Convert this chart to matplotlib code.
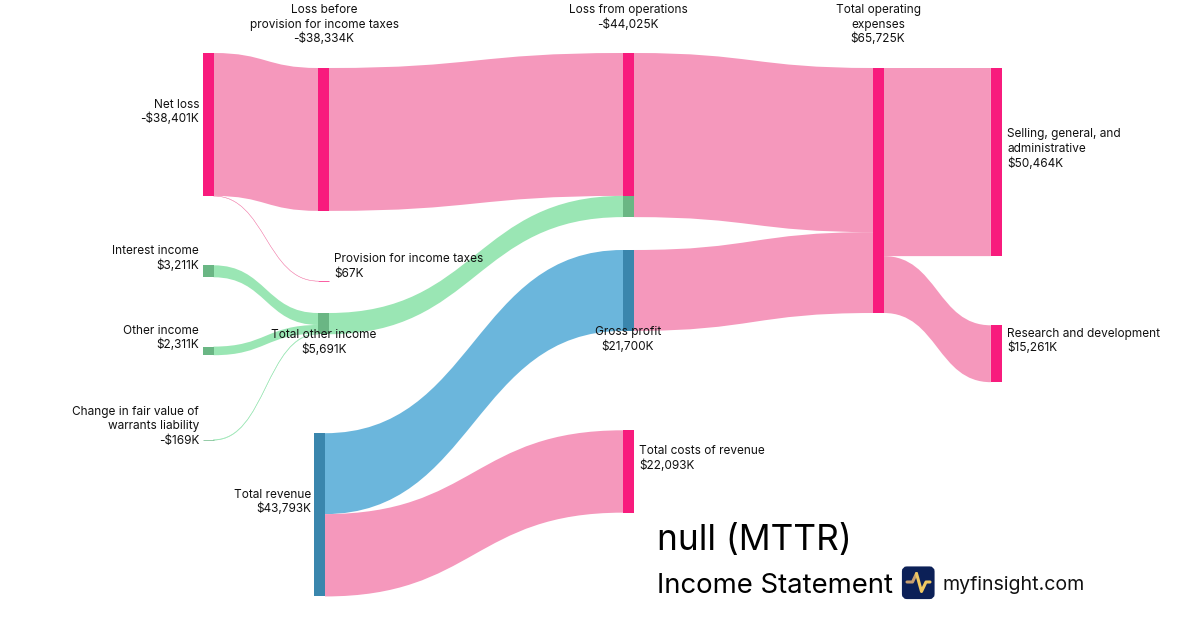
import matplotlib
matplotlib.use("Agg")
import matplotlib.pyplot as plt
from matplotlib.path import Path
from matplotlib.patches import PathPatch, Rectangle, FancyBboxPatch

plt.rcParams['font.family'] = ['Inter', 'DejaVu Sans']

# values in $K, as printed on the chart
net_loss = -38401
loss_before_tax = -38334
provision_tax = 67
interest_income = 3211
other_income = 2311
change_warrants = -169
total_other_income = 5691
loss_from_ops = -44025
total_revenue = 43793
gross_profit = 21700
cost_of_revenue = 22093
total_opex = 65725
sga = 50464
rnd = 15261

PINK_NODE = '#f81b7d'
PINK_LINK = '#f598bc'
GREEN_NODE = '#6ab684'
GREEN_LINK = '#9ae6b4'
BLUE_NODE = '#3a86ad'
BLUE_LINK = '#6bb6dc'

PX_PER_K = 245 / 65725  # same height scale for all the nodes
NODE_W = 10.7

# node: value, left x, top y, colour
nodes = {
    'net': (net_loss, 202.8, 53, PINK_NODE),
    'before': (loss_before_tax, 318.3, 68, PINK_NODE),
    'prov': (provision_tax, 318.3, 281, PINK_NODE),
    'interest': (interest_income, 202.8, 265.3, GREEN_NODE),
    'other': (other_income, 202.8, 346.6, GREEN_NODE),
    'warrants': (change_warrants, 202.8, 439.6, GREEN_NODE),
    'tot_other': (total_other_income, 318.3, 313, GREEN_NODE),
    'ops': (loss_from_ops, 623, 53, PINK_NODE),
    'revenue': (total_revenue, 314.3, 433.2, BLUE_NODE),
    'gross': (gross_profit, 623, 250, BLUE_NODE),
    'costs': (cost_of_revenue, 623, 430.3, PINK_NODE),
    'opex': (total_opex, 873.2, 68, PINK_NODE),
    'sga': (sga, 990.9, 68, PINK_NODE),
    'rnd': (rnd, 990.9, 325.3, PINK_NODE),
}

# source, target, value, colour (order sets the stacking inside a node)
links = [
    ('net', 'before', abs(loss_before_tax), PINK_LINK),
    ('net', 'prov', provision_tax, PINK_LINK),
    ('interest', 'tot_other', interest_income, GREEN_LINK),
    ('other', 'tot_other', other_income, GREEN_LINK),
    ('warrants', 'tot_other', abs(change_warrants), GREEN_LINK),
    ('before', 'ops', abs(loss_before_tax), PINK_LINK),
    ('tot_other', 'ops', total_other_income, GREEN_LINK),
    ('revenue', 'gross', gross_profit, BLUE_LINK),
    ('revenue', 'costs', cost_of_revenue, PINK_LINK),
    ('ops', 'opex', abs(loss_from_ops), PINK_LINK),
    ('gross', 'opex', gross_profit, PINK_LINK),
    ('opex', 'sga', sga, PINK_LINK),
    ('opex', 'rnd', rnd, PINK_LINK),
]


def money(v):
    return f"-${abs(v):,}K" if v < 0 else f"${v:,}K"


# label lines, alignment, anchor x, y of first line centre
labels = [
    (['Net loss', money(net_loss)], 'right', 199, 103),
    (['Interest income', money(interest_income)], 'right', 199, 250),
    (['Other income', money(other_income)], 'right', 199, 329),
    (['Change in fair value of', 'warrants liability', money(change_warrants)], 'right', 199, 410),
    (['Total revenue', money(total_revenue)], 'right', 311, 493),
    (['Total other income', money(total_other_income)], 'center', 324, 334),
    (['Provision for income taxes', money(provision_tax)], 'left', 334, 258),
    (['Loss before', 'provision for income taxes', money(loss_before_tax)], 'center', 324, 8.5),
    (['Loss from operations', money(loss_from_ops)], 'center', 628, 8.5),
    (['Gross profit', money(gross_profit)], 'center', 628, 331),
    (['Total costs of revenue', money(cost_of_revenue)], 'left', 639, 450),
    (['Total operating', 'expenses', money(total_opex)], 'center', 878, 8.5),
    (['Selling, general, and', 'administrative', money(sga)], 'left', 1007, 133),
    (['Research and development', money(rnd)], 'left', 1007, 332),
]

fig = plt.figure(figsize=(12, 6.3), dpi=100)
ax = fig.add_axes([0, 0, 1, 1])
ax.set_xlim(0, 1200)
ax.set_ylim(630, 0)
ax.axis('off')

out_used = {k: 0.0 for k in nodes}
in_used = {k: 0.0 for k in nodes}

for src, tgt, val, col in links:
    h = val * PX_PER_K
    x0 = nodes[src][1] + NODE_W
    x1 = nodes[tgt][1]
    y0 = nodes[src][2] + out_used[src]
    y1 = nodes[tgt][2] + in_used[tgt]
    out_used[src] += h
    in_used[tgt] += h
    xm = (x0 + x1) / 2
    verts = [(x0, y0), (xm, y0), (xm, y1), (x1, y1),
             (x1, y1 + h), (xm, y1 + h), (xm, y0 + h), (x0, y0 + h), (x0, y0)]
    codes = [Path.MOVETO, Path.CURVE4, Path.CURVE4, Path.CURVE4,
             Path.LINETO, Path.CURVE4, Path.CURVE4, Path.CURVE4, Path.CLOSEPOLY]
    # hairlines keep a small stroke so the very thin flows still show
    lw = 0.25 if h < 1 else 0
    ax.add_patch(PathPatch(Path(verts, codes), facecolor=col, edgecolor=col, lw=lw, zorder=2))

for key, (val, x, y, col) in nodes.items():
    h = abs(val) * PX_PER_K
    ax.add_patch(Rectangle((x, y), NODE_W, h, facecolor=col, edgecolor=col, lw=0.5 if h < 1 else 0, zorder=3))

# part of the operations node fed by other income is green
ax.add_patch(Rectangle((nodes['ops'][1], nodes['ops'][2] + abs(loss_before_tax) * PX_PER_K), NODE_W,
                       total_other_income * PX_PER_K, facecolor=GREEN_NODE, lw=0, zorder=3))

LINE_H = 14.6
for lines, ha, x, y in labels:
    for i, line in enumerate(lines):
        ax.text(x, y + i * LINE_H + 4.5, line, ha=ha, va='baseline', fontsize=8.53, color='#111111', zorder=5)

# title block
ax.text(657, 550, 'null (MTTR)', fontsize=25.4, color='#000000', va='baseline')
ax.text(657, 593, 'Income Statement', fontsize=19.8, color='#000000', va='baseline')
ax.text(942, 590, 'myfinsight.com', fontsize=14.1, color='#111111', va='baseline')

# logo
ax.add_patch(FancyBboxPatch((904, 568.5), 28.5, 28.5, boxstyle='round,pad=0,rounding_size=3',
                            facecolor='#0c2057', edgecolor='#0c2057', lw=3, zorder=4))
ax.plot([907, 912.5, 916.5], [582, 582, 573.5], color='#c9a06e', lw=2.2, zorder=5,
        solid_capstyle='round', solid_joinstyle='round')
ax.plot([916.5, 921.5, 926, 930], [573.5, 591.5, 582, 582], color='#f0c862', lw=2.2, zorder=5,
        solid_capstyle='round', solid_joinstyle='round')

fig.savefig('out.png', dpi=100)
